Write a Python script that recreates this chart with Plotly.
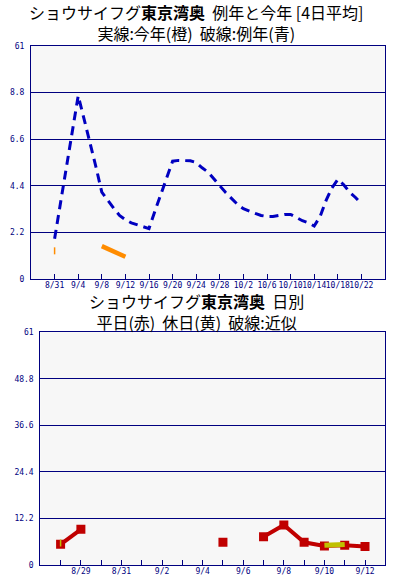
import plotly.graph_objects as go
import pandas as pd

# ---------------- data ----------------
# Top chart: normal year (4-day average), daily 8/31 .. 10/22
normal_dates = pd.date_range("2024-08-31", "2024-10-22", freq="D").strftime("%Y-%m-%d").tolist()
normal_vals = [1.9, 3.6, 5.3, 7.0, 8.65, 7.55, 6.45, 5.3, 4.1, 3.7,
               3.35, 3.0, 2.8, 2.65, 2.55, 2.45, 2.38, 3.2, 3.98, 4.69,
               5.56, 5.6, 5.6, 5.58, 5.5, 5.25, 5.05, 4.7, 4.4, 4.08,
               3.8, 3.52, 3.32, 3.2, 3.1, 3.0, 2.95, 2.95, 3.0, 3.05,
               3.05, 2.9, 2.75, 2.65, 2.5, 2.95, 3.7, 4.3, 4.7, 4.45,
               4.1, 3.85, 3.55]

# Top chart: this year (4-day average)
this_single_date = ["2024-08-31"]
this_single_val = [1.33]
this_dates = ["2024-09-08", "2024-09-09", "2024-09-10", "2024-09-11", "2024-09-12"]
this_vals = [1.55, 1.43, 1.3, 1.18, 1.05]

top_tick_dates = ["2024-08-31", "2024-09-04", "2024-09-08", "2024-09-12", "2024-09-16",
                  "2024-09-20", "2024-09-24", "2024-09-28", "2024-10-02", "2024-10-06",
                  "2024-10-10", "2024-10-14", "2024-10-18", "2024-10-22"]
top_tick_text = ["8/31", "9/4", "9/8", "9/12", "9/16", "9/20", "9/24", "9/28",
                 "10/2", "10/6", "10/10", "10/14", "10/18", "10/22"]
top_y_vals = [0, 2.2, 4.4, 6.6, 8.8, 11]
top_y_text = ["0", "2.2", "4.4", "6.6", "8.8", "61"]

# Bottom chart: daily (weekday red, holiday yellow)
day_dates = pd.date_range("2024-08-28", "2024-09-12", freq="D").strftime("%Y-%m-%d").tolist()
weekday_vals = [5.42, 9.35, None, None, None, None, None, None, 5.94, None,
                7.41, 10.47, 5.94, 5.0, 5.2, 4.85]
holiday_dates = ["2024-09-10", "2024-09-11"]
holiday_vals = [5.15, 5.4]
holiday_single_date = ["2024-08-28"]
holiday_single_val = [5.76]

bot_tick_dates = pd.date_range("2024-08-28", "2024-09-12", freq="D").strftime("%Y-%m-%d").tolist()
bot_tick_text = ["", "8/29", "", "8/31", "", "9/2", "", "9/4", "", "9/6", "",
                 "9/8", "", "9/10", "", "9/12"]
bot_y_vals = [0, 12.2, 24.4, 36.6, 48.8, 61]
bot_y_text = ["0", "12.2", "24.4", "36.6", "48.8", "61"]

top_title = "ショウサイフグ<b>東京湾奥</b>  例年と今年 [4日平均]<br>実線:今年(橙)  破線:例年(青)"
bot_title = "ショウサイフグ<b>東京湾奥</b>  日別<br>平日(赤)  休日(黄)  破線:近似"

# ---------------- style ----------------
W, H = 399, 581
NAVY = "#000080"
BLUE = "#0000c0"
ORANGE = "#ff8c00"
RED = "#c00000"
YELLOW = "#c0c000"
BG = "#f7f7f7"
TICKFONT = dict(family="DejaVu Sans Mono", size=8, color=NAVY)
TITLEFONT = dict(family="Noto Sans CJK JP", size=16, color="black")

fig = go.Figure()

# top chart traces
fig.add_trace(go.Scatter(x=normal_dates, y=normal_vals, mode="lines",
                         line=dict(color=BLUE, width=3, dash="9px,6px"),
                         xaxis="x", yaxis="y", showlegend=False, hoverinfo="skip"))
fig.add_trace(go.Scatter(x=this_dates, y=this_vals, mode="lines",
                         line=dict(color=ORANGE, width=4.5),
                         xaxis="x", yaxis="y", showlegend=False, hoverinfo="skip"))
fig.add_trace(go.Scatter(x=this_single_date, y=this_single_val, mode="markers",
                         marker=dict(symbol="line-ns", size=5, line=dict(color=ORANGE, width=1.5)),
                         xaxis="x", yaxis="y", showlegend=False, hoverinfo="skip"))

# bottom chart traces
fig.add_trace(go.Scatter(x=day_dates, y=weekday_vals, mode="lines+markers",
                         connectgaps=False,
                         line=dict(color=RED, width=4),
                         marker=dict(symbol="square", size=9, color=RED),
                         xaxis="x2", yaxis="y2", showlegend=False, hoverinfo="skip"))
fig.add_trace(go.Scatter(x=holiday_dates, y=holiday_vals, mode="lines",
                         line=dict(color=YELLOW, width=5),
                         xaxis="x2", yaxis="y2", showlegend=False, hoverinfo="skip"))
fig.add_trace(go.Scatter(x=holiday_single_date, y=holiday_single_val, mode="markers",
                         marker=dict(symbol="line-ns", size=5, line=dict(color=YELLOW, width=1.5)),
                         xaxis="x2", yaxis="y2", showlegend=False, hoverinfo="skip"))

def px_x(p):
    return p / W

def px_y(p):
    return 1 - p / H

xcommon = dict(showline=True, mirror=True, linecolor=NAVY, linewidth=1,
               ticks="inside", ticklen=5, tickcolor=NAVY, tickfont=TICKFONT,
               ticklabelstandoff=-2,
               tickangle=0, zeroline=False, fixedrange=True, automargin=False,
               showgrid=False)
ycommon = dict(showline=True, mirror=True, linecolor=NAVY, linewidth=1,
               ticks="", tickfont=TICKFONT, ticklabelstandoff=4,
               zeroline=False, fixedrange=True, automargin=False,
               showgrid=True, gridcolor=NAVY, gridwidth=1)

fig.update_layout(
    width=W, height=H,
    margin=dict(l=0, r=0, t=0, b=0, autoexpand=False),
    paper_bgcolor="white",
    plot_bgcolor=BG,
    xaxis=dict(domain=[px_x(31), px_x(385)], type="date",
               range=["2024-08-27", "2024-10-26"],
               tickmode="array", tickvals=top_tick_dates, ticktext=top_tick_text,
               anchor="y", **xcommon),
    yaxis=dict(domain=[px_y(279), px_y(46)], range=[0, 11],
               tickmode="array", tickvals=top_y_vals, ticktext=top_y_text,
               anchor="x", **ycommon),
    xaxis2=dict(domain=[px_x(40.3), px_x(385.3)], type="date",
                range=["2024-08-27", "2024-09-13"],
                tickmode="array", tickvals=bot_tick_dates, ticktext=bot_tick_text,
                anchor="y2", **xcommon),
    yaxis2=dict(domain=[px_y(565), px_y(332.3)], range=[0, 61],
                tickmode="array", tickvals=bot_y_vals, ticktext=bot_y_text,
                anchor="x2", **ycommon),
    annotations=[
        dict(text=top_title, x=px_x(196), y=px_y(23), align="center",
             xref="paper", yref="paper", xanchor="center", yanchor="middle",
             showarrow=False, font=TITLEFONT),
        dict(text=bot_title, x=px_x(196), y=px_y(311.5), align="center",
             xref="paper", yref="paper", xanchor="center", yanchor="middle",
             showarrow=False, font=TITLEFONT),
    ],
)

fig.write_html("out.html", config={"displayModeBar": False, "staticPlot": True},
               post_script="document.body.style.margin='0';document.body.style.overflow='hidden';")
